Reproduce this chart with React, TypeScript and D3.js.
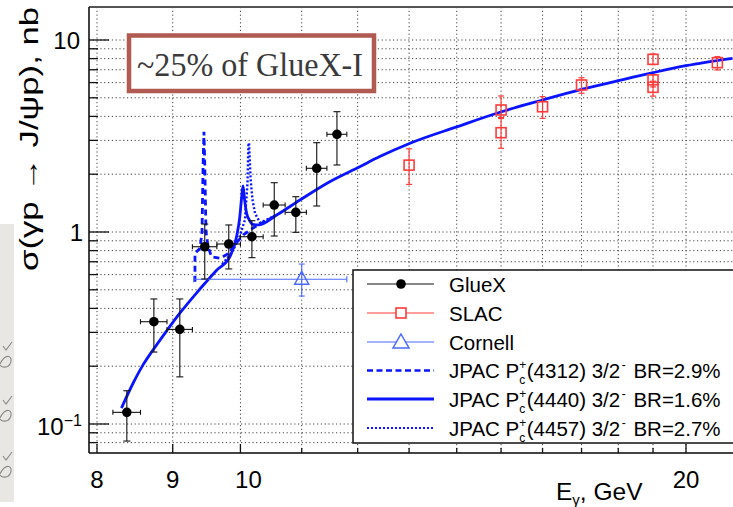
import React from "react";
import * as d3 from "d3";

// ---------- data ----------
const gluexE = [8.38, 8.74, 9.10, 9.46, 9.82, 10.18, 10.54, 10.90, 11.26, 11.62];
const gluexELo = [8.20, 8.56, 8.92, 9.28, 9.64, 10.00, 10.36, 10.72, 11.08, 11.44];
const gluexEHi = [8.56, 8.92, 9.28, 9.64, 10.00, 10.36, 10.72, 11.08, 11.44, 11.80];
const gluexSigma = [0.115, 0.341, 0.311, 0.838, 0.866, 0.945, 1.382, 1.266, 2.147, 3.228];
const gluexLo = [0.0815, 0.237, 0.176, 0.569, 0.642, 0.735, 0.953, 0.996, 1.366, 2.234];
const gluexHi = [0.149, 0.448, 0.448, 1.10, 1.088, 1.145, 1.806, 1.527, 2.918, 4.233];

const slacE = [13.0, 15.0, 15.0, 16.0, 17.0, 19.0, 19.0, 19.0, 21.0];
const slacSigma = [2.23, 4.32, 3.29, 4.49, 5.83, 7.93, 6.2, 5.67, 7.62];
const slacLo = [1.77, 3.95, 2.73, 3.91, 5.28, 7.45, 5.7, 5.1, 6.98];
const slacHi = [2.71, 5.11, 3.9, 5.07, 6.36, 8.45, 6.6, 6.1, 8.19];

const cornellE = [11.0];
const cornellELo = [9.3];
const cornellEHi = [11.8];
const cornellSigma = [0.567];
const cornellLo = [0.464];
const cornellHi = [0.681];

// JPAC Pc(4440) (solid)
const solidE = [8.31, 8.465, 8.59, 8.73, 8.916, 9.10, 9.342, 9.463, 9.64, 9.838, 9.94, 9.99, 10.02, 10.04, 10.065, 10.097, 10.14, 10.18, 10.28, 10.58, 10.97, 11.49, 12.04, 12.42, 13.02, 14.0, 15.01, 16.0, 17.0, 18.0, 19.0, 20.0, 21.5];
const solidSigma = [0.121, 0.164, 0.202, 0.2434, 0.3057, 0.3777, 0.4824, 0.5406, 0.634, 0.744, 0.945, 1.20, 1.53, 1.736, 1.47, 1.25, 1.155, 1.10, 1.088, 1.226, 1.468, 1.828, 2.188, 2.47, 2.90, 3.53, 4.23, 4.87, 5.53, 6.14, 6.76, 7.35, 8.03];

// JPAC Pc(4312) (dashed)
const dashedE = [9.317, 9.317, 9.39, 9.42, 9.435, 9.448, 9.461, 9.478, 9.51, 9.56, 9.69, 9.81, 9.94, 10.05, 10.2, 10.31, 10.58];
const dashedSigma = [0.551, 0.775, 0.822, 1.0, 2.2, 3.33, 2.2, 1.0, 0.838, 0.743, 0.73, 0.77, 0.88, 0.97, 1.05, 1.10, 1.226];

// JPAC Pc(4457) (dotted)
const dottedE = [9.72, 9.84, 9.97, 10.07, 10.11, 10.125, 10.135, 10.16, 10.19, 10.23, 10.31, 10.58];
const dottedSigma = [0.68, 0.76, 0.908, 1.155, 1.79, 2.90, 2.90, 1.87, 1.468, 1.25, 1.118, 1.226];

const xGridVals = [8, 9, 10, 11, 12, 13, 14, 15, 16, 17, 18, 19, 20];
const xMajor = [8, 9, 10, 20];
const xLabels = ["8", "9", "10", "20"];
const yGridVals = [0.08, 0.09, 0.1, 0.2, 0.3, 0.4, 0.5, 0.6, 0.7, 0.8, 0.9, 1, 2, 3, 4, 5, 6, 7, 8, 9, 10];
const yMajor = [0.1, 1, 10];

const simpleLegend = ["GlueX", "SLAC", "Cornell"];
const jpacStates = ["4312", "4440", "4457"];
const jpacBR = ["2.9%", "1.6%", "2.7%"];

// ---------- layout ----------
const W = 733, H = 507;
const plotL = 89, plotT = 7, plotB = 453, plotR = 770;
const x = d3.scaleLog().domain([8, 20]).range([97, 686]);
const y = d3.scaleLog().domain([0.1, 10]).range([424, 40]);

const BLUE = "#0a14ff";
const RED = "#ff3b3b";
const CBLUE = "#4a68ff";

type P = [number, number];
const zip = (a: number[], b: number[]): P[] => a.map((v, i) => [v, b[i]]);

const lineMono = d3.line<P>().x(d => x(d[0])).y(d => y(d[1])).curve(d3.curveMonotoneX);
const lineLin = d3.line<P>().x(d => x(d[0])).y(d => y(d[1])).curve(d3.curveLinear);

function Square({ cx, cy, s = 10, color }: { cx: number; cy: number; s?: number; color: string }) {
  return <rect x={cx - s / 2} y={cy - s / 2} width={s} height={s} fill="none" stroke={color} strokeWidth={1.6} />;
}
function Triangle({ cx, cy, color }: { cx: number; cy: number; color: string }) {
  const w = 14, h = 13;
  return <path d={`M${cx},${cy - h * 0.62} L${cx + w / 2},${cy + h * 0.38} L${cx - w / 2},${cy + h * 0.38} Z`} fill="none" stroke={color} strokeWidth={1.5} />;
}

export default function App() {
  const legendRows = [284, 313, 342, 370.5, 399, 428];
  const lx1 = 367, lx2 = 434, lmx = 401, ltx = 449;
  return (
    <svg width={W} height={H} style={{ position: "absolute", left: 0, top: 0, background: "#fff" }}
      fontFamily="'Liberation Sans', Arial, Helvetica, sans-serif">
      <defs>
        <clipPath id="plotClip">
          <rect x={plotL} y={plotT} width={plotR - plotL} height={plotB - plotT} />
        </clipPath>
      </defs>
      <rect x={0} y={0} width={W} height={H} fill="#fff" />

      {/* decoration at left edge */}
      <rect x={0} y={224} width={14} height={278} fill="#e9e7e3" />
      {[358, 412, 468].map((cy, i) => (
        <g key={i} stroke="#8a8a8a" strokeWidth={1.1} fill="none">
          <path d={`M3,${cy - 12} L6,${cy - 8} L12,${cy - 16}`} />
          <path d={`M0,${cy + 6} C6,${cy - 6} 14,${cy - 2} 10,${cy + 6} C8,${cy + 10} 2,${cy + 10} 0,${cy + 7}`} />
        </g>
      ))}

      {/* grid */}
      <g stroke="#222" strokeWidth={1} strokeDasharray="1.2 2.6" opacity={0.85}>
        {xGridVals.map(v => (
          <line key={"gx" + v} x1={x(v)} x2={x(v)} y1={plotT} y2={plotB} />
        ))}
        {yGridVals.map(v => (
          <line key={"gy" + v} x1={plotL} x2={plotR} y1={y(v)} y2={y(v)} />
        ))}
      </g>

      {/* curves */}
      <g clipPath="url(#plotClip)" fill="none">
        <path d={lineLin(zip(dottedE, dottedSigma)) || ""} stroke={BLUE} strokeWidth={2.4} strokeDasharray="2 2" />
        <path d={lineLin(zip(dashedE, dashedSigma)) || ""} stroke={BLUE} strokeWidth={2.8} strokeDasharray="6 4" />
        <path d={lineMono(zip(solidE, solidSigma)) || ""} stroke={BLUE} strokeWidth={2.8} />
      </g>

      {/* Cornell */}
      {cornellE.map((e, i) => {
        const cx = x(e), cy = y(cornellSigma[i]);
        return (
          <g key={"c" + i} stroke={CBLUE} strokeWidth={1.1}>
            <line x1={x(cornellELo[i])} x2={x(cornellEHi[i])} y1={cy} y2={cy} />
            <line x1={x(cornellELo[i])} x2={x(cornellELo[i])} y1={cy - 3} y2={cy + 3} />
            <line x1={x(cornellEHi[i])} x2={x(cornellEHi[i])} y1={cy - 3} y2={cy + 3} />
            <line x1={cx} x2={cx} y1={y(cornellLo[i])} y2={y(cornellHi[i])} />
            <line x1={cx - 3} x2={cx + 3} y1={y(cornellLo[i])} y2={y(cornellLo[i])} />
            <line x1={cx - 3} x2={cx + 3} y1={y(cornellHi[i])} y2={y(cornellHi[i])} />
            <Triangle cx={cx} cy={cy} color={CBLUE} />
          </g>
        );
      })}

      {/* SLAC */}
      {slacE.map((e, i) => {
        const cx = x(e), cy = y(slacSigma[i]);
        return (
          <g key={"s" + i} stroke={RED} strokeWidth={1.2}>
            <line x1={cx} x2={cx} y1={y(slacLo[i])} y2={y(slacHi[i])} />
            <line x1={cx - 3} x2={cx + 3} y1={y(slacLo[i])} y2={y(slacLo[i])} />
            <line x1={cx - 3} x2={cx + 3} y1={y(slacHi[i])} y2={y(slacHi[i])} />
            <Square cx={cx} cy={cy} color={RED} />
          </g>
        );
      })}

      {/* GlueX */}
      {gluexE.map((e, i) => {
        const cx = x(e), cy = y(gluexSigma[i]);
        const xl = x(gluexELo[i]), xh = x(gluexEHi[i]);
        const yl = y(gluexLo[i]), yh = y(gluexHi[i]);
        return (
          <g key={"g" + i} stroke="#111" strokeWidth={1.1}>
            <line x1={xl} x2={xh} y1={cy} y2={cy} />
            <line x1={xl} x2={xl} y1={cy - 2.5} y2={cy + 2.5} />
            <line x1={xh} x2={xh} y1={cy - 2.5} y2={cy + 2.5} />
            <line x1={cx} x2={cx} y1={yl} y2={yh} />
            <line x1={cx - 3.5} x2={cx + 3.5} y1={yl} y2={yl} />
            <line x1={cx - 3.5} x2={cx + 3.5} y1={yh} y2={yh} />
            <circle cx={cx} cy={cy} r={4.8} fill="#000" stroke="none" />
          </g>
        );
      })}

      {/* frame & axes */}
      <line x1={plotL} x2={W} y1={plotT} y2={plotT} stroke="#555" strokeWidth={2.2} />
      <line x1={plotL} x2={W} y1={plotB} y2={plotB} stroke="#444" strokeWidth={2} />
      <line x1={plotL} x2={plotL} y1={plotT} y2={plotB} stroke="#111" strokeWidth={1.6} />
      <g stroke="#111" strokeWidth={1.3}>
        {yGridVals.map(v => {
          const len = yMajor.includes(v) ? 20 : 9;
          return <line key={"ty" + v} x1={plotL} x2={plotL + len} y1={y(v)} y2={y(v)} />;
        })}
        {xGridVals.map(v => {
          const len = xMajor.includes(v) ? 9 : 5;
          return <line key={"tx" + v} x1={x(v)} x2={x(v)} y1={plotB} y2={plotB - len} />;
        })}
      </g>

      {/* tick labels */}
      <g fontSize={24} fill="#000">
        <text x={80} y={49} textAnchor="end">10</text>
        <text x={83} y={241} textAnchor="end">1</text>
        <text x={37} y={435}>10<tspan fontSize={16} dy={-9}>−1</tspan></text>
        {xMajor.map((v, i) => (
          <text key={"xl" + v} x={v === 10 ? x(v) + 8 : x(v)} y={488} textAnchor="middle">{xLabels[i]}</text>
        ))}
      </g>

      {/* axis titles */}
      <text transform="translate(38,139) rotate(-90)" textAnchor="middle" fontSize={25} textLength={264} lengthAdjust="spacingAndGlyphs">
        σ(γp → J/ψp), nb
      </text>
      <text x={556} y={500} fontSize={24.5}>
        E<tspan fontSize={15} dy={5}>γ</tspan><tspan dy={-5}>, GeV</tspan>
      </text>

      {/* legend */}
      <rect x={353} y={270} width={400} height={173} fill="#fff" stroke="#111" strokeWidth={1.5} />
      <g>
        <line x1={lx1} x2={lx2} y1={legendRows[0]} y2={legendRows[0]} stroke="#111" strokeWidth={1.1} />
        <circle cx={lmx} cy={legendRows[0]} r={4.8} fill="#000" />
        <line x1={lx1} x2={lx2} y1={legendRows[1]} y2={legendRows[1]} stroke={RED} strokeWidth={1.1} />
        <rect x={lmx - 5} y={legendRows[1] - 5} width={10} height={10} fill="#fff" stroke={RED} strokeWidth={1.6} />
        <line x1={lx1} x2={lx2} y1={legendRows[2]} y2={legendRows[2]} stroke={CBLUE} strokeWidth={1.1} />
        <path d={`M${lmx},${legendRows[2] - 8} L${lmx + 8},${legendRows[2] + 6} L${lmx - 8},${legendRows[2] + 6} Z`} fill="#fff" stroke={CBLUE} strokeWidth={1.5} />
        <line x1={lx1} x2={lx2} y1={legendRows[3]} y2={legendRows[3]} stroke={BLUE} strokeWidth={2.6} strokeDasharray="6 3.5" />
        <line x1={lx1} x2={lx2} y1={legendRows[4]} y2={legendRows[4]} stroke={BLUE} strokeWidth={2.8} />
        <line x1={lx1} x2={lx2} y1={legendRows[5]} y2={legendRows[5]} stroke={BLUE} strokeWidth={2.2} strokeDasharray="2 2" />
      </g>
      <g fontSize={20.5} fill="#000">
        {simpleLegend.map((t, i) => (
          <text key={t} x={ltx} y={legendRows[i] + 7.5}>{t}</text>
        ))}
        {jpacStates.map((s, i) => (
          <text key={s} x={ltx} y={legendRows[3 + i] + 7.5}>
            <tspan>JPAC P</tspan>
            <tspan fontSize={12} dy={-9}>+</tspan>
            <tspan fontSize={12} dx={-7} dy={15}>c</tspan>
            <tspan dx={1.5} dy={-6}>{"(" + s + ") 3/2"}</tspan>
            <tspan fontSize={12} dx={1.5} dy={-9}>-</tspan>
            <tspan dx={2} dy={9}>{" BR=" + jpacBR[i]}</tspan>
          </text>
        ))}
      </g>

      {/* annotation */}
      <rect x={129} y={35.5} width={245} height={55.5} fill="#fff" stroke="#b05a52" strokeWidth={4.5} />
      <text x={137} y={76} fontSize={34} fill="#3a3a3a" fontFamily="'Liberation Serif', 'DejaVu Serif', serif"
        textLength={226} lengthAdjust="spacingAndGlyphs">~25% of GlueX-I</text>
    </svg>
  );
}
